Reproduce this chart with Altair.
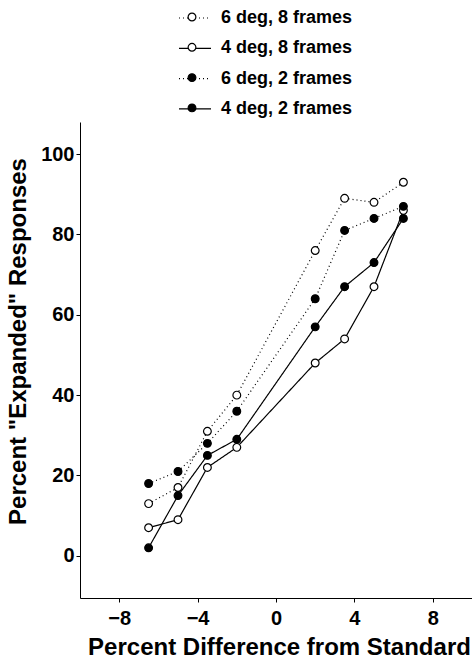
import altair as alt
import pandas as pd

x_vals = [-6.5, -5.0, -3.5, -2.0, 2.0, 3.5, 5.0, 6.5]
series_names = ["6 deg, 8 frames", "4 deg, 8 frames", "6 deg, 2 frames", "4 deg, 2 frames"]
s_6deg_8fr = [13, 17, 31, 40, 76, 89, 88, 93]
s_4deg_8fr = [7, 9, 22, 27, 48, 54, 67, 86]
s_6deg_2fr = [18, 21, 28, 36, 64, 81, 84, 87]
s_4deg_2fr = [2, 15, 25, 29, 57, 67, 73, 84]

dash_range = [[1, 3], [1, 0], [1, 3], [1, 0]]
fill_range = ["white", "white", "black", "black"]

rows = []
for name, vals in zip(series_names, [s_6deg_8fr, s_4deg_8fr, s_6deg_2fr, s_4deg_2fr]):
    for x, y in zip(x_vals, vals):
        rows.append({"x": x, "y": y, "series": name, "series2": name})
df = pd.DataFrame(rows)

FONT = "Liberation Sans"

xs = alt.Scale(domain=[-10, 10], nice=False, zero=False)
ys = alt.Scale(domain=[-10.5, 108], nice=False, zero=False)

x_axis = alt.Axis(
    title="Percent Difference from Standard",
    values=[-8, -4, 0, 4, 8],
    grid=False, domainColor="black", tickColor="black", tickSize=4,
    labelFont=FONT, labelFontSize=20, labelFontWeight="bold", labelColor="black",
    labelPadding=6,
    titleFont=FONT, titleFontSize=24, titleFontWeight="bold", titleColor="black",
    titleX=199, titleY=56, titleBaseline="alphabetic", titleAnchor="middle",
)
y_axis = alt.Axis(
    title='Percent "Expanded" Responses',
    values=[0, 20, 40, 60, 80, 100],
    grid=False, domainColor="black", tickColor="black", tickSize=4,
    labelFont=FONT, labelFontSize=20, labelFontWeight="bold", labelColor="black",
    labelPadding=2,
    titleFont=FONT, titleFontSize=24, titleFontWeight="bold", titleColor="black",
    titleX=-50, titleY=219, titleAnchor="middle",
)

base = alt.Chart(df)

lines = base.mark_line(color="black", strokeWidth=1.2).encode(
    x=alt.X("x:Q", scale=xs, axis=x_axis),
    y=alt.Y("y:Q", scale=ys, axis=y_axis),
    strokeDash=alt.StrokeDash(
        "series:N",
        scale=alt.Scale(domain=series_names, range=dash_range),
        legend=alt.Legend(
            title=None, orient="none", legendX=98, legendY=-121,
            symbolType="stroke", symbolSize=1024, symbolStrokeWidth=1.2,
            symbolStrokeColor="black",
            labelFont=FONT, labelFontSize=18, labelFontWeight="bold", labelColor="black",
            labelOffset=9, rowPadding=4.3, padding=0,
        ),
    ),
)

points = base.mark_point(filled=True, stroke="black", strokeWidth=1.2, size=60, shape="circle", opacity=1).encode(
    x="x:Q",
    y="y:Q",
    fill=alt.Fill(
        "series2:N",
        scale=alt.Scale(domain=series_names, range=fill_range),
        legend=alt.Legend(
            title=None, orient="none", legendX=103, legendY=-114,
            symbolType="circle", symbolSize=60, symbolStrokeWidth=1.2,
            symbolStrokeColor="black", symbolOpacity=1,
            labelExpr="''",
            labelFont=FONT, labelFontSize=18, labelFontWeight="bold", labelColor="black",
            labelOffset=0, rowPadding=12.3, padding=0,
        ),
    ),
)

chart = alt.layer(lines, points).resolve_legend(
    strokeDash="independent", fill="independent"
).properties(
    width=392, height=476,
    autosize=alt.AutoSizeParams(type="none"),
    padding={"left": 80, "top": 122, "right": 0, "bottom": 64},
    background="white",
).configure_view(stroke=None)

chart.save("out.html", embed_options={"renderer": "svg", "actions": False})
